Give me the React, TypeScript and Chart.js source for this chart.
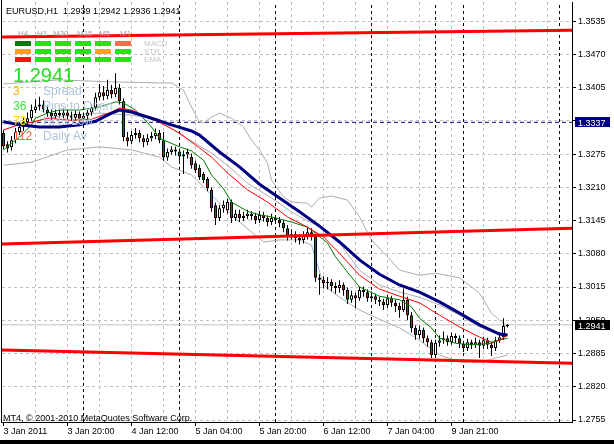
import React, { useEffect, useRef } from 'react';
import { Chart, registerables } from 'chart.js';

Chart.register(...registerables);

const FONT = '"Liberation Sans", Arial, sans-serif';

// ---- OHLC (H1 bars, bar index 0..126) ----
const OPEN = [
  1.3316, 1.3294, 1.3288, 1.3302, 1.3318, 1.3328, 1.3337, 1.3345, 1.3361, 1.3368,
  1.3372, 1.3362, 1.3355, 1.3349, 1.3355, 1.3351, 1.3356, 1.3350, 1.3346, 1.3353,
  1.3344, 1.3350, 1.3356, 1.3366, 1.3386, 1.3396, 1.3388, 1.3400, 1.3392, 1.3404,
  1.3378, 1.3308, 1.3300, 1.3312, 1.3316, 1.3306, 1.3298, 1.3306, 1.3310, 1.3316,
  1.3302, 1.3268, 1.3279, 1.3284, 1.3280, 1.3270, 1.3274, 1.3269, 1.3257, 1.3248,
  1.3236, 1.3226, 1.3205, 1.3175, 1.3150, 1.3169, 1.3165, 1.3181, 1.3150, 1.3158,
  1.3150, 1.3154, 1.3158, 1.3154, 1.3146, 1.3156, 1.3150, 1.3142, 1.3150, 1.3146,
  1.3140, 1.3130, 1.3115, 1.3118, 1.3111, 1.3107, 1.3115, 1.3122, 1.3115, 1.3033,
  1.3029, 1.3023, 1.3025, 1.3017, 1.3013, 1.3019, 1.3009, 1.2990, 1.2999, 1.2993,
  1.3009, 1.3005, 1.2993, 1.2997, 1.2990, 1.2986, 1.2980, 1.2993, 1.2984, 1.2978,
  1.2970, 1.2990, 1.2960, 1.2935, 1.2921, 1.2931, 1.2915, 1.2907, 1.2882, 1.2906,
  1.2911, 1.2915, 1.2907, 1.2919, 1.2915, 1.2904, 1.2896, 1.2907, 1.2902, 1.2907,
  1.2900, 1.2911, 1.2902, 1.2896, 1.2911, 1.2917, 1.2939,
];
const HIGH = [
  1.3322, 1.3300, 1.3310, 1.3326, 1.3336, 1.3346, 1.3356, 1.3372, 1.3382, 1.3387,
  1.3380, 1.3370, 1.3362, 1.3362, 1.3362, 1.3364, 1.3362, 1.3358, 1.3360, 1.3358,
  1.3356, 1.3362, 1.3372, 1.3395, 1.3412, 1.3408, 1.3420, 1.3410, 1.3433, 1.3412,
  1.3384, 1.3318, 1.3320, 1.3326, 1.3322, 1.3312, 1.3314, 1.3318, 1.3325, 1.3322,
  1.3318, 1.3286, 1.3290, 1.3289, 1.3286, 1.3282, 1.3286, 1.3276, 1.3262, 1.3254,
  1.3240, 1.3230, 1.3210, 1.3180, 1.3176, 1.3184, 1.3188, 1.3186, 1.3166, 1.3166,
  1.3162, 1.3166, 1.3163, 1.3160, 1.3164, 1.3162, 1.3155, 1.3158, 1.3156, 1.3152,
  1.3146, 1.3136, 1.3128, 1.3124, 1.3118, 1.3124, 1.3132, 1.3130, 1.3120, 1.3040,
  1.3036, 1.3034, 1.3030, 1.3024, 1.3028, 1.3024, 1.3014, 1.3008, 1.3004, 1.3016,
  1.3016, 1.3010, 1.3006, 1.3002, 1.2996, 1.2992, 1.3000, 1.2998, 1.2990, 1.2984,
  1.3012, 1.2996, 1.2966, 1.2940, 1.2940, 1.2936, 1.2920, 1.2912, 1.2912, 1.2920,
  1.2928, 1.2920, 1.2926, 1.2924, 1.2920, 1.2910, 1.2914, 1.2912, 1.2916, 1.2912,
  1.2918, 1.2916, 1.2908, 1.2918, 1.2926, 1.2954, 1.2942,
];
const LOW = [
  1.3284, 1.3278, 1.3282, 1.3296, 1.3312, 1.3320, 1.3330, 1.3340, 1.3355, 1.3360,
  1.3356, 1.3348, 1.3342, 1.3344, 1.3345, 1.3344, 1.3343, 1.3340, 1.3341, 1.3336,
  1.3334, 1.3342, 1.3350, 1.3360, 1.3380, 1.3380, 1.3382, 1.3384, 1.3386, 1.3372,
  1.3300, 1.3290, 1.3294, 1.3305, 1.3298, 1.3288, 1.3292, 1.3300, 1.3304, 1.3296,
  1.3262, 1.3262, 1.3274, 1.3272, 1.3262, 1.3236, 1.3266, 1.3246, 1.3238, 1.3224,
  1.3218, 1.3202, 1.3162, 1.3136, 1.3144, 1.3160, 1.3158, 1.3140, 1.3144, 1.3142,
  1.3144, 1.3148, 1.3146, 1.3138, 1.3140, 1.3143, 1.3134, 1.3136, 1.3138, 1.3132,
  1.3122, 1.3106, 1.3108, 1.3102, 1.3098, 1.3100, 1.3108, 1.3106, 1.3025, 1.3000,
  1.3012, 1.3010, 1.3006, 1.3002, 1.3004, 1.2998, 1.2982, 1.2984, 1.2974, 1.2988,
  1.2996, 1.2986, 1.2986, 1.2982, 1.2978, 1.2970, 1.2974, 1.2976, 1.2966, 1.2955,
  1.2966, 1.2950, 1.2926, 1.2912, 1.2914, 1.2906, 1.2898, 1.2876, 1.2876, 1.2898,
  1.2904, 1.2900, 1.2902, 1.2906, 1.2896, 1.2888, 1.2890, 1.2894, 1.2896, 1.2876,
  1.2894, 1.2894, 1.2880, 1.2890, 1.2906, 1.2912, 1.2936,
];
const CLOSE = [
  1.3290, 1.3286, 1.3302, 1.3318, 1.3328, 1.3337, 1.3345, 1.3361, 1.3368, 1.3372,
  1.3362, 1.3355, 1.3349, 1.3355, 1.3351, 1.3356, 1.3350, 1.3346, 1.3353, 1.3344,
  1.3350, 1.3356, 1.3366, 1.3386, 1.3396, 1.3388, 1.3400, 1.3392, 1.3404, 1.3378,
  1.3308, 1.3300, 1.3312, 1.3316, 1.3306, 1.3298, 1.3306, 1.3310, 1.3316, 1.3302,
  1.3268, 1.3279, 1.3284, 1.3280, 1.3270, 1.3274, 1.3279, 1.3253, 1.3244, 1.3230,
  1.3224, 1.3208, 1.3169, 1.3150, 1.3169, 1.3176, 1.3181, 1.3150, 1.3158, 1.3150,
  1.3154, 1.3158, 1.3154, 1.3146, 1.3156, 1.3150, 1.3142, 1.3150, 1.3146, 1.3140,
  1.3130, 1.3115, 1.3118, 1.3111, 1.3107, 1.3115, 1.3122, 1.3115, 1.3033, 1.3029,
  1.3023, 1.3025, 1.3017, 1.3013, 1.3019, 1.3009, 1.2990, 1.2999, 1.2993, 1.3009,
  1.3005, 1.2993, 1.2997, 1.2990, 1.2986, 1.2980, 1.2993, 1.2984, 1.2978, 1.2970,
  1.2990, 1.2960, 1.2935, 1.2921, 1.2931, 1.2915, 1.2907, 1.2882, 1.2906, 1.2911,
  1.2915, 1.2907, 1.2919, 1.2915, 1.2904, 1.2896, 1.2907, 1.2902, 1.2907, 1.2900,
  1.2911, 1.2902, 1.2896, 1.2911, 1.2917, 1.2939, 1.2941,
];

// ---- indicator lines (bar index -> price) ----
const NAVY_BARS = [0, 4, 9, 14, 19, 23, 27, 29, 32, 37, 42, 47, 49, 54, 59, 64, 69, 74, 79, 84, 89, 94, 99, 104, 109, 114, 119, 124, 126];
const NAVY_VALUES = [1.3338, 1.3332, 1.3328, 1.3328, 1.3332, 1.3339, 1.3355, 1.3361, 1.3357, 1.3345, 1.3332, 1.3320, 1.3312, 1.3279, 1.3250, 1.3216, 1.3189, 1.3162, 1.3134, 1.3103, 1.3068, 1.3040, 1.3019, 1.3005, 1.2986, 1.2964, 1.2941, 1.2923, 1.2921];

const RED_BARS = [0, 3, 7, 11, 17, 22, 27, 29, 32, 39, 44, 49, 52, 56, 61, 66, 71, 76, 80, 84, 89, 94, 99, 104, 109, 114, 119, 122, 124, 126];
const RED_VALUES = [1.3322, 1.3330, 1.3337, 1.3345, 1.3341, 1.3343, 1.3357, 1.3365, 1.3361, 1.3337, 1.3316, 1.3287, 1.3269, 1.3238, 1.3205, 1.3181, 1.3152, 1.3132, 1.3113, 1.3081, 1.3038, 1.3011, 1.2997, 1.2984, 1.2960, 1.2937, 1.2917, 1.2907, 1.2911, 1.2921];

const GREEN_BARS = [0, 2, 4, 7, 8, 11, 14, 19, 24, 28, 30, 33, 37, 39, 44, 47, 50, 52, 55, 57, 61, 64, 67, 72, 76, 78, 81, 83, 86, 89, 94, 99, 102, 104, 107, 109, 113, 117, 122, 124, 126];
const GREEN_VALUES = [1.3283, 1.3296, 1.3308, 1.3332, 1.3345, 1.3355, 1.3361, 1.3361, 1.3367, 1.3377, 1.3375, 1.3361, 1.3328, 1.3306, 1.3289, 1.3281, 1.3263, 1.3234, 1.3207, 1.3181, 1.3163, 1.3156, 1.3152, 1.3142, 1.3132, 1.3120, 1.3101, 1.3074, 1.3044, 1.3015, 1.2997, 1.2990, 1.2976, 1.2954, 1.2935, 1.2915, 1.2905, 1.2902, 1.2905, 1.2911, 1.2915];

const UPPER_BARS = [0, 7, 14, 27, 39, 42, 45, 47, 49, 50, 52, 54, 57, 60, 62, 64, 66, 67, 70, 72, 76, 77, 79, 82, 86, 89, 92, 96, 99, 104, 108, 114, 119, 122, 126];
const UPPER_VALUES = [1.3412, 1.3416, 1.3420, 1.3416, 1.3414, 1.3414, 1.3400, 1.3367, 1.3337, 1.3336, 1.3347, 1.3355, 1.3345, 1.3328, 1.3302, 1.3283, 1.3257, 1.3224, 1.3191, 1.3181, 1.3179, 1.3171, 1.3189, 1.3193, 1.3185, 1.3152, 1.3107, 1.3074, 1.3048, 1.3038, 1.3042, 1.3033, 1.3003, 1.2964, 1.2937];

const MIDDLE_BARS = [0, 7, 14, 24, 32, 39, 44, 52, 56, 61, 67, 72, 76, 80, 84, 89, 94, 99, 104, 109, 114, 119, 124, 126];
const MIDDLE_VALUES = [1.3334, 1.3337, 1.3349, 1.3355, 1.3351, 1.3343, 1.3314, 1.3277, 1.3253, 1.3218, 1.3189, 1.3162, 1.3144, 1.3130, 1.3101, 1.3048, 1.3019, 1.3005, 1.2995, 1.2980, 1.2960, 1.2937, 1.2921, 1.2921];

const LOWER_BARS = [0, 7, 16, 24, 32, 39, 42, 47, 52, 57, 62, 65, 69, 74, 77, 80, 84, 89, 96, 99, 104, 109, 114, 119, 123, 126];
const LOWER_VALUES = [1.3253, 1.3259, 1.3283, 1.3289, 1.3283, 1.3269, 1.3250, 1.3234, 1.3195, 1.3156, 1.3122, 1.3103, 1.3107, 1.3107, 1.3097, 1.3019, 1.2995, 1.2970, 1.2945, 1.2935, 1.2911, 1.2882, 1.2868, 1.2868, 1.2876, 1.2882];

// ---- trend channel (left edge -> right edge) ----
const X_MIN = -0.375;
const X_MAX = 142.125;
const TREND_BARS = [X_MIN, X_MAX];
const TREND_TOP = [1.3504, 1.3517];
const TREND_MID = [1.3099, 1.3130];
const TREND_BOT = [1.2892, 1.2866];

const LEVEL_PRICE = 1.3337;
const BID_PRICE = 1.2941;

// ---- axes ----
const Y_MIN = 1.27511;
const Y_MAX = 1.35722;
const Y_TICKS = [1.3535, 1.3470, 1.3405, 1.3340, 1.3275, 1.3210, 1.3145, 1.3080, 1.3015, 1.2950, 1.2885, 1.2820, 1.2755];
const GRID_BARS = [0, 8, 16, 24, 32, 40, 48, 56, 64, 72, 80, 88, 96, 104, 112, 120, 128, 136];
const X_LABEL_BARS = [0, 16, 32, 48, 64, 80, 96, 112];
const X_LABELS = ['3 Jan 2011', '3 Jan 20:00', '4 Jan 12:00', '5 Jan 04:00', '5 Jan 20:00', '6 Jan 12:00', '7 Jan 04:00', '9 Jan 21:00'];
const SEPARATOR_BARS = [20, 44, 68, 92, 108, 115, 139];

// ---- on-chart panel ----
const TF_LABELS = ['H4', 'H1', 'M30', 'M15', 'M5', 'M1'];
const TF_X = [18, 37, 53, 77, 99, 120];
const BLOCK_X = [15, 35, 55, 75, 95, 115];
const BLOCK_Y = [41, 49, 57];
const BLOCK_COLORS = [
  ['#0A780A', '#1EE61E', '#1EE61E', '#1EE61E', '#1EE61E', '#FF6A50'],
  ['#FFA500', '#1EE61E', '#1EE61E', '#1EE61E', '#FFA500', '#1EE61E'],
  ['#FF1010', '#1EE61E', '#1EE61E', '#1EE61E', '#1EE61E', '#1EE61E'],
];
const IND_LABELS = ['MACD', 'STR', 'EMA'];
const STAT_NUMS = ['3', '36', '73', '112'];
const STAT_COLORS = ['#FFB000', '#3CE03C', '#FFD700', '#FF6030'];
const STAT_LABELS = ['Spread', 'Pins to Open', 'Hi to Low', 'Daily Av'];
const STAT_Y = [95, 110, 125, 140];

const pts = (bars: number[], vals: (number | null)[]) => bars.map((b, i) => ({ x: b, y: vals[i] }));

const BAR_INDEX = CLOSE.map((_, i) => i);
const WICKS = BAR_INDEX.map((i) => ({ x: i, y: [LOW[i], HIGH[i]] }));
const BODIES = BAR_INDEX.map((i) => ({ x: i, y: [OPEN[i], CLOSE[i]] }));
const BODY_COLORS = BAR_INDEX.map((i) => (CLOSE[i] >= OPEN[i] ? '#FFFFFF' : '#FF0000'));

const SEPARATOR_POINTS: { x: number; y: number | null }[] = [];
SEPARATOR_BARS.forEach((b) => {
  SEPARATOR_POINTS.push({ x: b, y: Y_MIN }, { x: b, y: Y_MAX }, { x: b, y: null });
});

const line = (data: any, color: string, width: number, order: number, dash: number[] = []) => ({
  type: 'line' as const,
  data,
  borderColor: color,
  borderWidth: width,
  borderDash: dash,
  pointRadius: 0,
  pointHoverRadius: 0,
  fill: false,
  tension: 0,
  spanGaps: false,
  order,
});

const crisp = (p: number) => Math.round(p - 0.5) + 0.5;

const overlayPlugin = {
  id: 'mt4overlay',
  beforeDraw(chart: any) {
    const { ctx, width, height } = chart;
    ctx.save();
    ctx.fillStyle = '#FFFFFF';
    ctx.fillRect(0, 0, width, height);
    ctx.restore();
  },
  beforeDatasetsDraw(chart: any) {
    const { ctx, chartArea } = chart;
    const xs = chart.scales.x;
    const ys = chart.scales.y;
    ctx.save();
    ctx.strokeStyle = '#C0C0C0';
    ctx.lineWidth = 1;
    ctx.setLineDash([3, 3]);
    GRID_BARS.forEach((b) => {
      if (b === 0) return;
      const px = crisp(xs.getPixelForValue(b));
      ctx.beginPath();
      ctx.moveTo(px, chartArea.top);
      ctx.lineTo(px, chartArea.bottom);
      ctx.stroke();
    });
    Y_TICKS.forEach((v) => {
      const py = crisp(ys.getPixelForValue(v));
      ctx.beginPath();
      ctx.moveTo(chartArea.left, py);
      ctx.lineTo(chartArea.right, py);
      ctx.stroke();
    });
    ctx.restore();
  },
  afterDraw(chart: any) {
    const { ctx, chartArea } = chart;
    const xs = chart.scales.x;
    const ys = chart.scales.y;
    ctx.save();
    ctx.strokeStyle = '#000';
    ctx.lineWidth = 1;
    ctx.setLineDash([]);
    ctx.beginPath();
    ctx.moveTo(1.5, 0);
    ctx.lineTo(1.5, chartArea.bottom + 1);
    ctx.stroke();
    // tick marks
    Y_TICKS.forEach((v) => {
      const py = crisp(ys.getPixelForValue(v));
      ctx.beginPath();
      ctx.moveTo(chartArea.right, py);
      ctx.lineTo(chartArea.right + 4, py);
      ctx.stroke();
    });
    X_LABEL_BARS.forEach((b) => {
      const px = crisp(xs.getPixelForValue(b));
      ctx.beginPath();
      ctx.moveTo(px, chartArea.bottom);
      ctx.lineTo(px, chartArea.bottom + 4);
      ctx.stroke();
    });
    ctx.fillStyle = '#000';
    ctx.fillRect(0, 440, chart.width, 4);

    const box = (v: number, bg: string) => {
      const yc = Math.round(ys.getPixelForValue(v));
      ctx.fillStyle = bg;
      ctx.fillRect(575, yc - 5, 35, 10);
      ctx.fillStyle = '#FFFFFF';
      ctx.font = `9px ${FONT}`;
      ctx.textBaseline = 'alphabetic';
      ctx.textAlign = 'left';
      ctx.fillText(v.toFixed(4), 578, yc + 3.5);
    };
    box(LEVEL_PRICE, '#000080');
    box(BID_PRICE, '#000000');

    ctx.textAlign = 'left';
    ctx.textBaseline = 'alphabetic';
    ctx.fillStyle = '#000';
    ctx.font = `9px ${FONT}`;
    ctx.fillText('EURUSD,H1  1.2939 1.2942 1.2936 1.2941', 6, 14);
    ctx.fillText('MT4, \u00A9 2001-2010 MetaQuotes Software Corp.', 3, 421);

    ctx.font = `8px ${FONT}`;
    ctx.fillStyle = '#A0A0A0';
    TF_LABELS.forEach((t, i) => ctx.fillText(t, TF_X[i], 36));
    BLOCK_COLORS.forEach((row, r) => {
      row.forEach((c, k) => {
        ctx.fillStyle = c;
        ctx.fillRect(BLOCK_X[k], BLOCK_Y[r], 16, 5);
      });
    });
    ctx.fillStyle = '#C4C4C4';
    ctx.font = `8px ${FONT}`;
    IND_LABELS.forEach((t, r) => ctx.fillText(t, 144, BLOCK_Y[r] + 5));

    ctx.font = `20px ${FONT}`;
    ctx.fillStyle = '#22E022';
    ctx.fillText('1.2941', 13, 82);

    ctx.font = `12px ${FONT}`;
    STAT_NUMS.forEach((n, i) => {
      ctx.fillStyle = STAT_COLORS[i];
      ctx.fillText(n, 13, STAT_Y[i]);
      ctx.fillStyle = '#B0C4DE';
      ctx.fillText(STAT_LABELS[i], 43, STAT_Y[i]);
    });
    ctx.restore();
  },
};

export default function App() {
  const ref = useRef<HTMLCanvasElement>(null);
  useEffect(() => {
    const canvas = ref.current;
    if (!canvas) return;
    const chart = new Chart(canvas, {
      type: 'bar',
      data: {
        datasets: [
          line(pts(TREND_BARS, TREND_TOP), '#FF0000', 3, 0),
          line(pts(TREND_BARS, TREND_MID), '#FF0000', 3, 0),
          line(pts(TREND_BARS, TREND_BOT), '#FF0000', 3, 0),
          line(pts(NAVY_BARS, NAVY_VALUES), '#000080', 3, 1),
          line(pts(RED_BARS, RED_VALUES), '#FF0000', 1, 2),
          line(pts(GREEN_BARS, GREEN_VALUES), '#007A00', 1, 3),
          {
            type: 'bar' as const,
            data: BODIES as any,
            backgroundColor: BODY_COLORS,
            borderColor: '#000000',
            borderWidth: 1,
            borderSkipped: false,
            grouped: false,
            barThickness: 3,
            maxBarThickness: 3,
            minBarLength: 1,
            inflateAmount: 0,
            order: 4,
          },
          {
            type: 'bar' as const,
            data: WICKS as any,
            backgroundColor: '#000000',
            borderWidth: 0,
            grouped: false,
            barThickness: 1,
            maxBarThickness: 1,
            inflateAmount: 0,
            order: 5,
          },
          line(pts(UPPER_BARS, UPPER_VALUES), '#ADADAD', 1, 6),
          line(pts(MIDDLE_BARS, MIDDLE_VALUES), '#ADADAD', 1, 6),
          line(pts(LOWER_BARS, LOWER_VALUES), '#ADADAD', 1, 6),
          line(pts(TREND_BARS, [LEVEL_PRICE, LEVEL_PRICE]), '#000080', 1, 7, [4, 3]),
          line(pts(TREND_BARS, [BID_PRICE, BID_PRICE]), '#C0C0C0', 1, 7),
          line(SEPARATOR_POINTS, '#000000', 1, 8, [3, 3]),
        ] as any,
      },
      options: {
        animation: false,
        responsive: false,
        devicePixelRatio: 1,
        events: [],
        layout: { padding: { left: 2, top: 2, right: 0, bottom: 0 } },
        plugins: { legend: { display: false }, tooltip: { enabled: false } },
        scales: {
          x: {
            type: 'linear',
            min: X_MIN,
            max: X_MAX,
            offset: false,
            afterBuildTicks: (s: any) => {
              s.ticks = GRID_BARS.map((v) => ({ value: v }));
            },
            afterFit: (s: any) => {
              s.height = 22;
              s.paddingLeft = 0;
              s.paddingRight = 0;
            },
            ticks: {
              autoSkip: false,
              maxRotation: 0,
              minRotation: 0,
              align: 'start',
              padding: 1,
              color: '#000',
              font: { family: FONT, size: 9 },
              callback: (v: any) => {
                const k = X_LABEL_BARS.indexOf(Number(v));
                return k >= 0 ? X_LABELS[k] : '';
              },
            },
            grid: { display: true, offset: false, drawOnChartArea: false, tickLength: 3, tickColor: 'rgba(0,0,0,0)', color: 'rgba(0,0,0,0)' },
            border: { display: true, color: '#000', width: 1 },
          },
          y: {
            type: 'linear',
            position: 'right',
            min: Y_MIN,
            max: Y_MAX,
            beginAtZero: false,
            afterBuildTicks: (s: any) => {
              s.ticks = Y_TICKS.map((v) => ({ value: v }));
            },
            afterFit: (s: any) => {
              s.width = 42;
              s.paddingTop = 0;
              s.paddingBottom = 0;
            },
            ticks: {
              autoSkip: false,
              padding: 2,
              color: '#000',
              font: { family: FONT, size: 9 },
              callback: (v: any) => Number(v).toFixed(4),
            },
            grid: { display: true, drawOnChartArea: false, tickLength: 4, tickColor: 'rgba(0,0,0,0)', color: 'rgba(0,0,0,0)' },
            border: { display: true, color: '#000', width: 1 },
          },
        },
      } as any,
      plugins: [overlayPlugin],
    });
    return () => chart.destroy();
  }, []);
  return (
    <div style={{ position: 'fixed', left: 0, top: 0, width: 614, height: 444, background: '#fff' }}>
      <canvas ref={ref} width={614} height={444} style={{ display: 'block', width: 614, height: 444 }} />
    </div>
  );
}
